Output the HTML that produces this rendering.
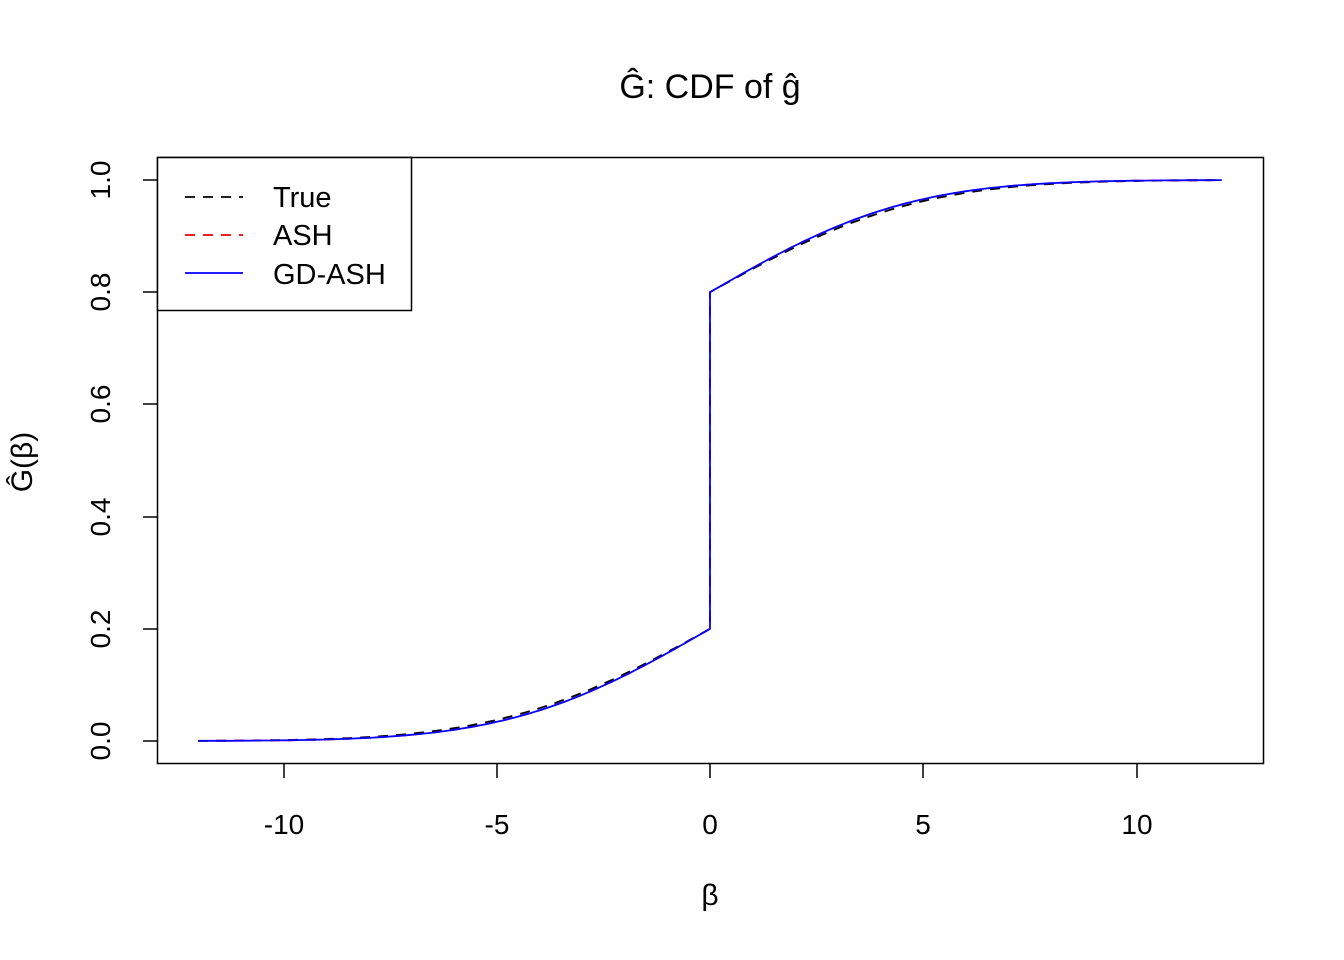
<!DOCTYPE html>
<html><head><meta charset="utf-8"><style>
html,body{margin:0;padding:0;background:#fff}
svg{display:block}
text{font-family:"Liberation Sans",sans-serif;fill:#000}
</style></head><body>
<svg id="s" width="1344" height="960" xmlns="http://www.w3.org/2000/svg">
<text x="710" y="98" font-size="34" text-anchor="middle">Ĝ: CDF of ĝ</text>
<rect x="157.5" y="157.5" width="1106" height="606" fill="none" stroke="#000" stroke-width="1.5"/>
<g stroke="#000" stroke-width="1.5">
<line x1="284" y1="764" x2="284" y2="778"/><line x1="497" y1="764" x2="497" y2="778"/>
<line x1="710" y1="764" x2="710" y2="778"/><line x1="923" y1="764" x2="923" y2="778"/>
<line x1="1137" y1="764" x2="1137" y2="778"/>
<line x1="157" y1="741" x2="143" y2="741"/><line x1="157" y1="629" x2="143" y2="629"/>
<line x1="157" y1="517" x2="143" y2="517"/><line x1="157" y1="404" x2="143" y2="404"/>
<line x1="157" y1="292" x2="143" y2="292"/><line x1="157" y1="180" x2="143" y2="180"/>
</g>
<g font-size="28" text-anchor="middle">
<text x="284" y="834">-10</text><text x="497" y="834">-5</text><text x="710" y="834">0</text>
<text x="923" y="834">5</text><text x="1137" y="834">10</text>
<text transform="translate(110,741) rotate(-90)">0.0</text>
<text transform="translate(110,629) rotate(-90)">0.2</text>
<text transform="translate(110,517) rotate(-90)">0.4</text>
<text transform="translate(110,404) rotate(-90)">0.6</text>
<text transform="translate(110,292) rotate(-90)">0.8</text>
<text transform="translate(110,180) rotate(-90)">1.0</text>
</g>
<text x="710" y="905" font-size="30" text-anchor="middle" font-family="Liberation Serif">β</text>
<text transform="translate(32,462) rotate(-90)" font-size="30" text-anchor="middle">Ĝ(β)</text>
<g id="curves" fill="none" stroke-width="1.8"></g>
<rect x="157.5" y="157.5" width="254" height="153" fill="#fff" stroke="#000" stroke-width="1.5"/>
<line x1="185" y1="197" x2="243" y2="197" stroke="#000" stroke-width="1.8" stroke-dasharray="10,8"/>
<line x1="185" y1="235" x2="243" y2="235" stroke="#e00" stroke-width="1.8" stroke-dasharray="10,8"/>
<line x1="185" y1="273" x2="243" y2="273" stroke="#00f" stroke-width="1.8"/>
<g font-size="29"><text x="273" y="207">True</text><text x="273" y="245">ASH</text><text x="273" y="284">GD-ASH</text></g>
</svg>
<script>
function erf(x){var s=x<0?-1:1;x=Math.abs(x);var t=1/(1+0.3275911*x);var y=1-(((((1.061405429*t-1.453152027)*t)+1.421413741)*t-0.284496736)*t+0.254829592)*t*Math.exp(-x*x);return s*y;}
function Phi(x,sd){return 0.5*(1+erf(x/(sd*Math.SQRT2)));}
function path(sd){var d="";for(var i=0;i<=240;i++){var b=-12+i*0.1;if(Math.abs(b)<1e-9)b=0;
var g=0.4*Phi(b,sd);var X=710+b*42.65;
if(i==120){d+="L"+X+","+(741-0.2*561)+"L"+X+","+(741-0.8*561);continue;}
d+=(i?"L":"M")+X.toFixed(1)+","+(741-(g+(b>0?0.6:0))*561).toFixed(1);}return d;}
var g=document.getElementById("curves");
[["#000",3.8,"10,8"],["#e00",3.65,"10,8"],["#00f",3.65,""]].forEach(function(c){
var p=document.createElementNS("http://www.w3.org/2000/svg","path");p.setAttribute("d",path(c[1]));p.setAttribute("stroke",c[0]);if(c[2])p.setAttribute("stroke-dasharray",c[2]);g.appendChild(p);});
</script>
</body></html>
